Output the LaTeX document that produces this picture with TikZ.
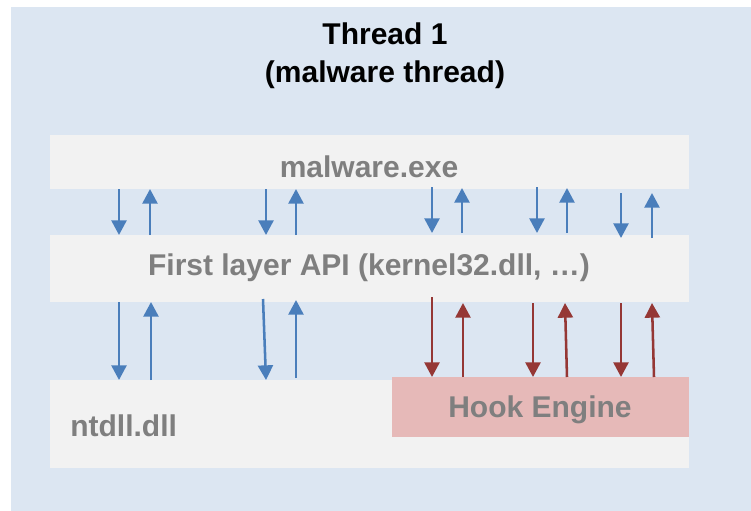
\documentclass[tikz,border=0pt]{standalone}
\usepackage{fontspec}
\setmainfont{Liberation Sans}
\usetikzlibrary{arrows.meta}
\definecolor{bgblue}{HTML}{DCE6F2}
\definecolor{boxgrey}{HTML}{F2F2F2}
\definecolor{hookred}{HTML}{E6B9B8}
\definecolor{txtgrey}{HTML}{7F7F7F}
\definecolor{arrblue}{HTML}{4A7EBB}
\definecolor{arrred}{HTML}{953735}
\tikzset{
  layer/.style={fill=boxgrey, draw=none, inner sep=0pt, anchor=north west},
  hookbox/.style={fill=hookred, draw=none, inner sep=0pt, anchor=north west},
  lbl/.style={font=\fontsize{22.5pt}{27pt}\selectfont\bfseries, text=txtgrey, inner sep=0pt, anchor=base},
  ttl/.style={font=\fontsize{22.5pt}{27pt}\selectfont\bfseries, text=black, inner sep=0pt, anchor=base},
  bluearr/.style={draw=arrblue, line width=1.9pt, -{Triangle[width=11.25pt,length=11pt]}},
  redarr/.style={draw=arrred, line width=1.9pt, -{Triangle[width=11.25pt,length=11pt]}},
}
\begin{document}
\begin{tikzpicture}[x=0.75pt,y=-0.75pt]
\useasboundingbox (0,0) rectangle (751,511);
\fill[white] (0,0) rectangle (751,511);
\fill[bgblue] (11,7) rectangle (751,511);
% layers
\node[layer, minimum width=639*0.75pt, minimum height=54*0.75pt] (mal) at (50,135) {};
\node[layer, minimum width=639*0.75pt, minimum height=67*0.75pt] (api) at (50,235) {};
\node[layer, minimum width=639*0.75pt, minimum height=88*0.75pt] (nt) at (50,380) {};
\node[hookbox, minimum width=297*0.75pt, minimum height=60*0.75pt] (hook) at (392,377) {};
% texts
\node[ttl] (t1) at (385,44) {Thread 1};
\node[ttl] (t2) at (385,82) {(malware thread)};
\node[lbl] (malt) at (369,177) {malware.exe};
\node[lbl] (apit) at (369,275) {First layer API (kernel32.dll, …)};
\node[lbl, anchor=base west] (ntt) at (70,436) {ntdll.dll};
\node[lbl] (hookt) at (540,417) {Hook Engine};
% upper arrows
\draw[bluearr] (119,189) -- (119,235);
\draw[bluearr] (150,235) -- (150,189);
\draw[bluearr] (266,189) -- (266,235);
\draw[bluearr] (296,235) -- (296,189);
\draw[bluearr] (432,187) -- (432,233);
\draw[bluearr] (462,233) -- (462,188);
\draw[bluearr] (537,187) -- (537,233);
\draw[bluearr] (567,233) -- (567,188);
\draw[bluearr] (621,193) -- (621,238);
\draw[bluearr] (652,238) -- (652,193);
% lower blue arrows
\draw[bluearr] (119,302) -- (119,380);
\draw[bluearr] (151,380) -- (151,302);
\draw[bluearr] (263,299) -- (266,380);
\draw[bluearr] (296,378) -- (296,300);
% red arrows
\draw[redarr] (432,297) -- (432,377);
\draw[redarr] (463,377) -- (463,303);
\draw[redarr] (533,303) -- (533,377);
\draw[redarr] (567,377) -- (565,303);
\draw[redarr] (621,303) -- (621,377);
\draw[redarr] (654,377) -- (652,303);
\end{tikzpicture}
\end{document}
